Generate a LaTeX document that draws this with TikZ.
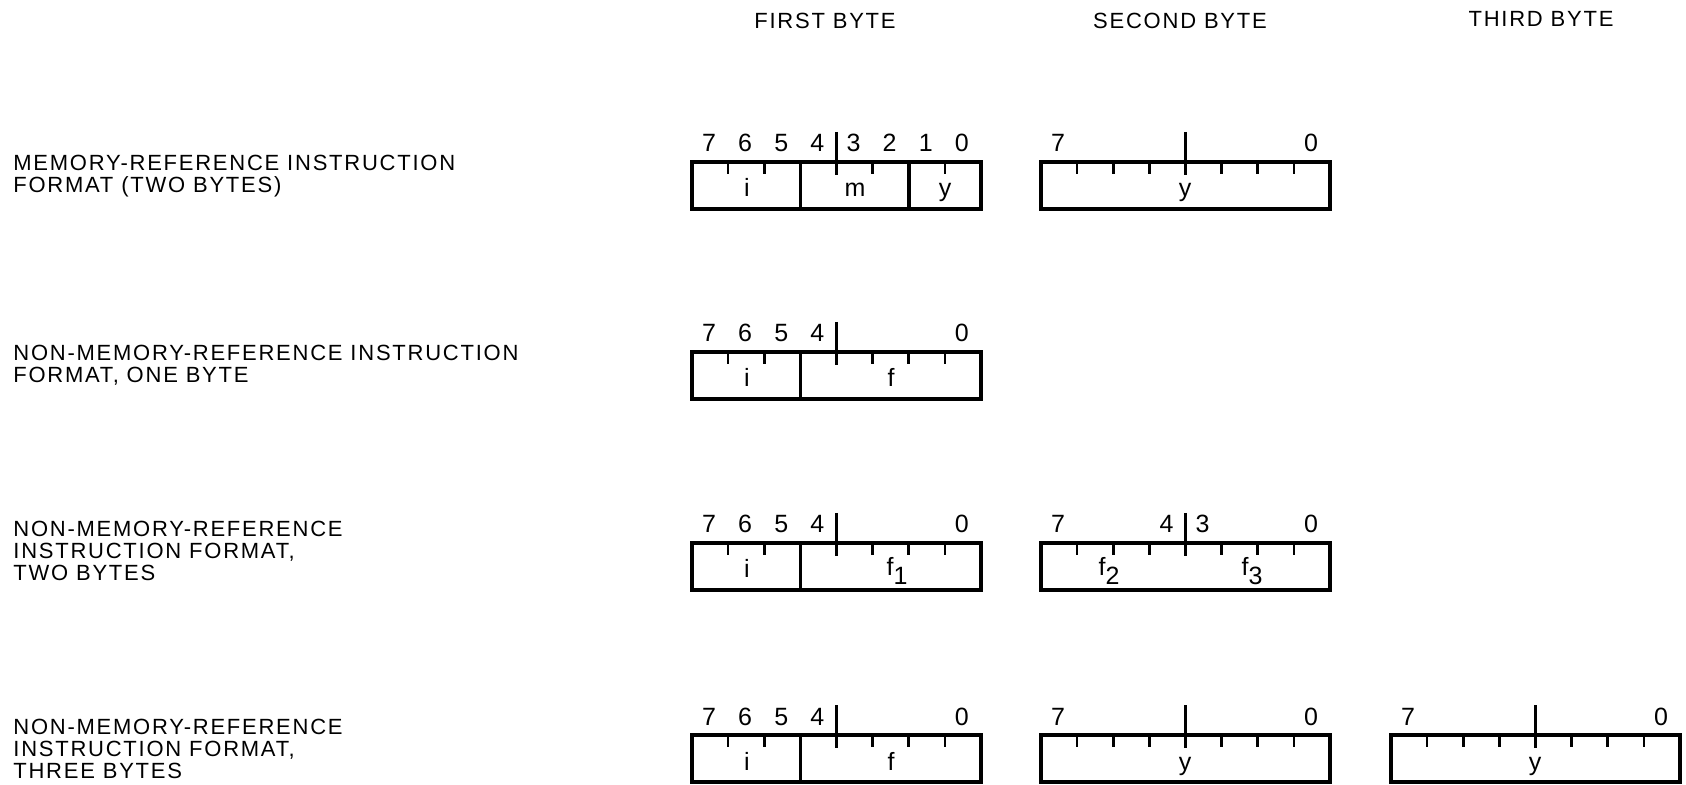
\documentclass[tikz,border=0pt]{standalone}
\usepackage{fontspec}
\setmainfont{Liberation Sans}[LetterSpace=8]
\usetikzlibrary{calc}

\begin{document}
\begin{tikzpicture}[x=0.5pt, y=-0.5pt,
            frame/.style={line width=1.8pt},
            tick/.style={line width=1.3pt},
            rowlabel/.style={font=\fontsize{11}{10.8}\selectfont, align=left, anchor=west, inner sep=0pt},
            head/.style={font=\fontsize{11}{12}\selectfont, inner sep=0pt},
            bit/.style={font=\fontsize{12.5}{14}\selectfont, inner sep=0pt, anchor=base},
            field/.style={font=\fontsize{12.5}{14}\selectfont, inner sep=0pt, anchor=base}
            ]
        \useasboundingbox (0,0) rectangle (1686,785);

        % column heads
        \node[head] (first)  at (825,21)  {FIRST BYTE};
        \node[head] (second) at (1180,21) {SECOND BYTE};
        \node[head] (third)  at (1541,19) {THIRD BYTE};

        % row labels
        \node[rowlabel] (memref) at (13,176) {MEMORY-REFERENCE INSTRUCTION\\FORMAT (TWO BYTES)};
        \node[rowlabel] (nonone) at (13,365) {NON-MEMORY-REFERENCE INSTRUCTION\\FORMAT, ONE BYTE};
        \node[rowlabel] (nontwo) at (13,551) {NON-MEMORY-REFERENCE\\INSTRUCTION FORMAT,\\TWO BYTES};
        \node[rowlabel] (nonthree) at (13,749) {NON-MEMORY-REFERENCE\\INSTRUCTION FORMAT,\\THREE BYTES};

        % byte boxes: name / left / top / short ticks / field dividers
        \foreach \n/\lx/\ty/\ticks/\divs in {
                r1a/692/162/{1,2,5,7}/{3,6},
                r1b/1041/162/{1,2,3,5,6,7}/{0},
                r2a/692/352/{1,2,5,6,7}/{3},
                r3a/692/543/{1,2,5,6,7}/{3},
                r3b/1041/543/{1,2,3,5,6,7}/{0},
                r4a/692/735/{1,2,5,6,7}/{3},
                r4b/1041/735/{1,2,3,5,6,7}/{0},
                r4c/1391/735/{1,2,3,5,6,7}/{0}} {
            \path coordinate (\n) at (\lx,\ty);
            \draw[frame] (\n) rectangle ++(289,47);
            \foreach \k in \ticks
                \draw[tick] ($(\n)+(\k*36.125,0)$) -- ++(0,12);
            \foreach \k in \divs
                \draw[frame] ($(\n)+(\k*36.125,0)$) -- ++(0,47);
            \draw[tick] ($(\n)+(4*36.125,-30)$) -- ++(0,43);
        }

        % bit numbers
        \foreach \n/\bits in {r1a/{7,6,5,4,3,2,1,0}, r1b/{7,0},
                              r2a/{7,6,5,4,0},
                              r3a/{7,6,5,4,0}, r3b/{7,4,3,0},
                              r4a/{7,6,5,4,0}, r4b/{7,0}, r4c/{7,0}}
            \foreach \b in \bits
                \node[bit] (\n-\b) at ($(\n)+({(7.5-\b)*36.125-1},-10)$) {\b};

        % fields
        \node[field] (r1a-i) at ($(r1a)+(55,35)$)  {i};
        \node[field] (r1a-m) at ($(r1a)+(163,35)$) {m};
        \node[field] (r1a-y) at ($(r1a)+(253,35)$) {y};
        \node[field] (r1b-y) at ($(r1b)+(144,35)$) {y};
        \node[field] (r2a-i) at ($(r2a)+(55,35)$)  {i};
        \node[field] (r2a-f) at ($(r2a)+(199,35)$) {f};
        \node[field] (r3a-i) at ($(r3a)+(55,35)$)  {i};
        \node[field] (r3a-f) at ($(r3a)+(205,32)$) {f\raisebox{-4.5pt}{1}};
        \node[field] (r3b-f) at ($(r3b)+(68,32)$)  {f\raisebox{-4.5pt}{2}};
        \node[field] (r3b-g) at ($(r3b)+(211,32)$) {f\raisebox{-4.5pt}{3}};
        \node[field] (r4a-i) at ($(r4a)+(55,35)$)  {i};
        \node[field] (r4a-f) at ($(r4a)+(199,35)$) {f};
        \node[field] (r4b-y) at ($(r4b)+(144,35)$) {y};
        \node[field] (r4c-y) at ($(r4c)+(144,35)$) {y};
    \end{tikzpicture}
\end{document}
